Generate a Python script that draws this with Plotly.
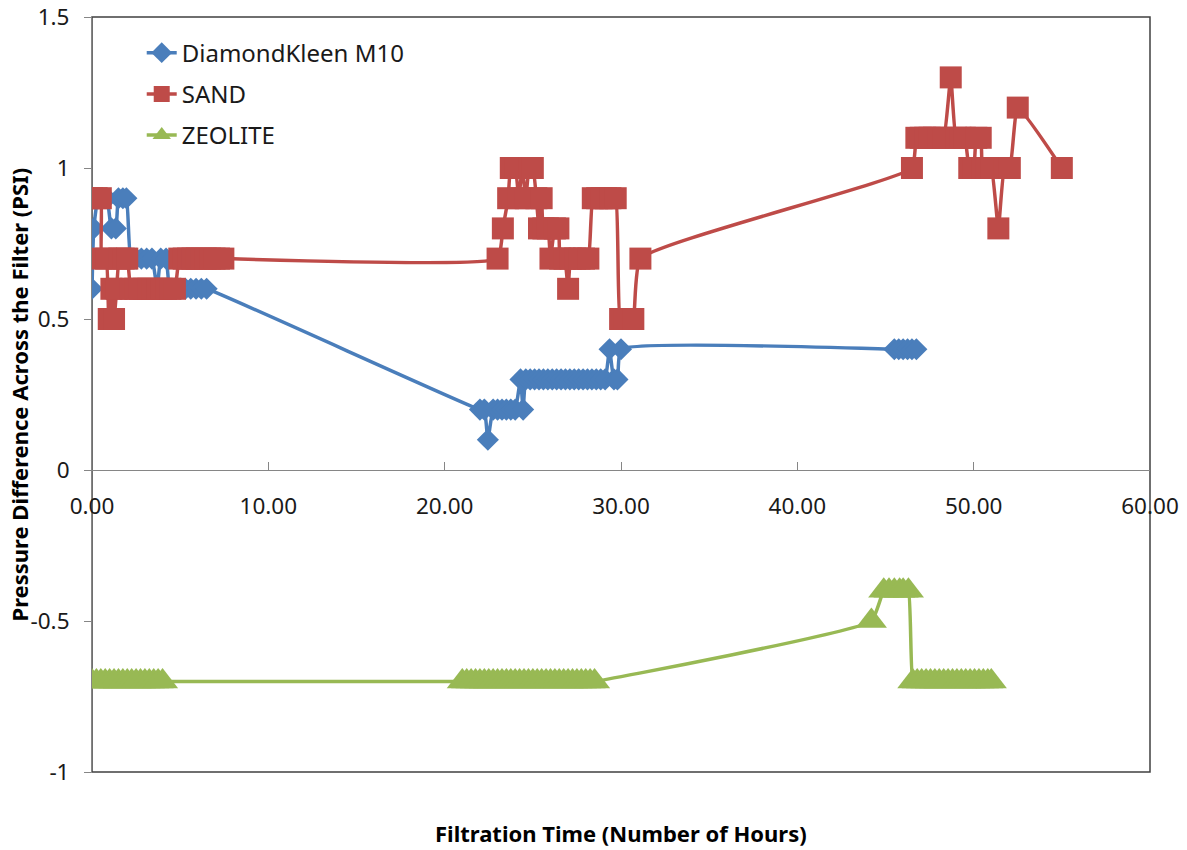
import plotly.graph_objects as go

# ---------------- data ----------------
dk_hours = [0.0, 0.1, 0.35, 0.6, 0.85, 1.1, 1.35, 1.5, 1.75, 1.95, 2.2, 2.5, 2.8, 3.1, 3.4, 3.7,
            3.9, 4.2, 4.4, 4.7, 5.0, 5.3, 5.6, 5.9, 6.2, 6.5,
            22.0, 22.25, 22.45, 22.75, 23.0, 23.25, 23.5, 23.75, 24.0, 24.3, 24.45, 24.6, 24.85,
            25.1, 25.35, 25.6, 25.85, 26.1, 26.35, 26.6, 26.85, 27.1, 27.35, 27.6, 27.85, 28.1,
            28.35, 28.6, 28.85, 29.1, 29.35, 29.6, 29.8, 30.0,
            45.5, 45.75, 46.0, 46.25, 46.5, 46.75]
dk_psi = [0.6, 0.8, 0.9, 0.9, 0.9, 0.8, 0.8, 0.9, 0.9, 0.9, 0.7, 0.7, 0.7, 0.7, 0.7, 0.6,
          0.7, 0.7, 0.6, 0.6, 0.6, 0.6, 0.6, 0.6, 0.6, 0.6,
          0.2, 0.2, 0.1, 0.2, 0.2, 0.2, 0.2, 0.2, 0.2, 0.3, 0.2, 0.3, 0.3,
          0.3, 0.3, 0.3, 0.3, 0.3, 0.3, 0.3, 0.3, 0.3, 0.3, 0.3, 0.3, 0.3,
          0.3, 0.3, 0.3, 0.3, 0.4, 0.3, 0.3, 0.4,
          0.4, 0.4, 0.4, 0.4, 0.4, 0.4]

sand_hours = [0.0, 0.25, 0.5, 0.55, 0.8, 0.95, 1.1, 1.25, 1.4, 1.55, 1.8, 2.0, 2.2, 2.45, 2.7,
              2.95, 3.2, 3.45, 3.7, 3.95, 4.2, 4.45, 4.7, 4.95, 5.2, 5.45, 5.7, 5.95, 6.2,
              6.45, 6.7, 6.95, 7.2, 7.45,
              23.0, 23.3, 23.6, 23.75, 24.0, 24.2, 24.4, 24.6, 24.8, 25.0, 25.2, 25.35, 25.5,
              25.6, 25.85, 26.0, 26.25, 26.45, 26.55, 26.8, 27.0, 27.15, 27.4, 27.65, 27.9,
              28.15, 28.4, 28.65, 28.9, 29.15, 29.4, 29.7, 29.95, 30.2, 30.45, 30.7, 31.1,
              46.5, 46.75, 47.0, 47.25, 47.5, 47.75, 48.0, 48.3, 48.7, 49.0, 49.25, 49.5,
              49.75, 50.0, 50.15, 50.4, 50.5, 50.75, 51.0, 51.4, 51.75, 52.05, 52.5, 55.0]
sand_psi = [0.9, 0.9, 0.9, 0.7, 0.7, 0.5, 0.6, 0.5, 0.6, 0.7, 0.7, 0.7, 0.6, 0.6, 0.6,
            0.6, 0.6, 0.6, 0.6, 0.6, 0.6, 0.6, 0.6, 0.7, 0.7, 0.7, 0.7, 0.7, 0.7,
            0.7, 0.7, 0.7, 0.7, 0.7,
            0.7, 0.8, 0.9, 1.0, 1.0, 0.9, 1.0, 0.9, 1.0, 1.0, 0.9, 0.8, 0.9,
            0.8, 0.8, 0.7, 0.8, 0.8, 0.7, 0.7, 0.6, 0.7, 0.7, 0.7, 0.7,
            0.7, 0.9, 0.9, 0.9, 0.9, 0.9, 0.9, 0.5, 0.5, 0.5, 0.5, 0.7,
            1.0, 1.1, 1.1, 1.1, 1.1, 1.1, 1.1, 1.1, 1.3, 1.1, 1.1, 1.1,
            1.0, 1.0, 1.1, 1.1, 1.0, 1.0, 1.0, 0.8, 1.0, 1.0, 1.2, 1.0]

zeo_hours = [0.0, 0.25, 0.5, 0.75, 1.0, 1.25, 1.5, 1.75, 2.0, 2.25, 2.5, 2.75, 3.0, 3.25,
             3.5, 3.75, 4.0,
             21.0, 21.25, 21.5, 21.75, 22.0, 22.25, 22.5, 22.75, 23.0, 23.25, 23.5, 23.75,
             24.0, 24.25, 24.5, 24.75, 25.0, 25.25, 25.5, 25.75, 26.0, 26.25, 26.5, 26.75,
             27.0, 27.25, 27.5, 27.75, 28.0, 28.25, 28.5,
             44.2, 44.9, 45.2, 45.5, 45.8, 46.0, 46.3,
             46.55, 46.8, 47.05, 47.3, 47.55, 47.8, 48.05, 48.3, 48.55, 48.8, 49.05, 49.3,
             49.55, 49.8, 50.05, 50.3, 50.55, 50.8, 51.0]
zeo_psi = [-0.7] * 17 + [-0.7] * 31 + [-0.5, -0.4, -0.4, -0.4, -0.4, -0.4, -0.4] + [-0.7] * 19

x_ticks = [0, 10, 20, 30, 40, 50, 60]
x_ticktext = ["0.00", "10.00", "20.00", "30.00", "40.00", "50.00", "60.00"]
y_ticks = [-1, -0.5, 0, 0.5, 1, 1.5]
y_ticktext = ["-1", "-0.5", "0", "0.5", "1", "1.5"]

FONT = "Noto Sans"
BLUE = "#4A7EBB"
RED = "#BE4B48"
GREEN = "#98B954"

fig = go.Figure()
series = [
    ("DiamondKleen M10", dk_hours, dk_psi, BLUE, "diamond", 17),
    ("SAND", sand_hours, sand_psi, RED, "square", 22),
    ("ZEOLITE", zeo_hours, zeo_psi, GREEN, "triangle-up", 27),
]
for name, xs, ys, col, sym, sz in series:
    fig.add_trace(go.Scatter(
        x=xs, y=ys, name=name, mode="lines+markers", legendgroup=name,
        line=dict(color=col, width=3.5, shape="spline", smoothing=0.4),
        marker=dict(symbol=sym, size=sz, color=col, line=dict(width=0)),
    ))

axis_gray = "#868686"
fig.update_layout(
    width=1187, height=850,
    margin=dict(l=92, r=37, t=17, b=78, autoexpand=False),
    paper_bgcolor="white", plot_bgcolor="white",
    font=dict(family=FONT, size=22, color="#1a1a1a"),
    showlegend=True,
    legend=dict(x=0.047, y=0.982, xanchor="left", yanchor="top",
                bgcolor="rgba(0,0,0,0)", tracegroupgap=7,
                font=dict(family=FONT, size=24, color="#1a1a1a")),
    xaxis=dict(range=[0, 60], anchor="free", position=0.4, automargin=False,
               tickvals=x_ticks, ticktext=x_ticktext,
               showline=True, linecolor=axis_gray, linewidth=1,
               ticks="inside", ticklen=8, tickcolor=axis_gray, tickwidth=1,
               ticklabelstandoff=16,
               showgrid=False, zeroline=False,
               tickfont=dict(family=FONT, size=22.5, color="#1a1a1a")),
    yaxis=dict(range=[-1, 1.5], tickvals=y_ticks, ticktext=y_ticktext, automargin=False,
               showline=True, linecolor=axis_gray, linewidth=1,
               ticks="outside", ticklen=7, tickcolor=axis_gray, tickwidth=1,
               ticklabelstandoff=10,
               showgrid=False, zeroline=False,
               tickfont=dict(family=FONT, size=22.5, color="#1a1a1a")),
    shapes=[dict(type="rect", xref="paper", yref="paper", x0=0, x1=1, y0=0, y1=1,
                 line=dict(color="#404040", width=1.5), layer="below")],
    annotations=[
        dict(text="<b>Pressure Difference Across the Filter (PSI)</b>", textangle=-90,
             xref="paper", yref="paper", x=0, y=0.5, xanchor="center", yanchor="middle",
             xshift=-74, showarrow=False, font=dict(family=FONT, size=22, color="#000")),
        dict(text="<b>Filtration Time (Number of Hours)</b>",
             xref="paper", yref="paper", x=0.5, y=0, xanchor="center", yanchor="middle",
             yshift=-61, showarrow=False, font=dict(family=FONT, size=22, color="#000")),
    ],
)

fig.write_html("out.html")
